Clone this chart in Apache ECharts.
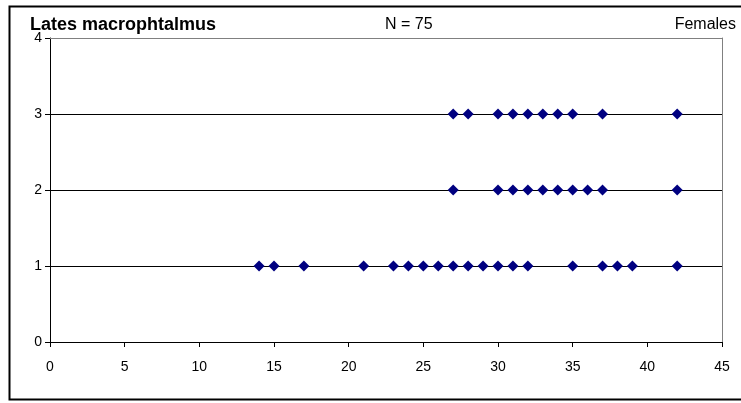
<!DOCTYPE html>
<html>
<head>
<meta charset="utf-8">
<script src="https://cdn.jsdelivr.net/npm/echarts@6/dist/echarts.min.js"></script>
<style>
  html, body { margin: 0; padding: 0; background: #fff; }
  #chart { width: 741px; height: 403px; }
</style>
</head>
<body>
<div id="chart"></div>
<script>
// lengths (x) found at each level (y)
const lengthsLevel1 = [14, 15, 17, 21, 23, 24, 25, 26, 27, 28, 29, 30, 31, 32, 35, 37, 38, 39, 42];
const lengthsLevel2 = [27, 30, 31, 32, 33, 34, 35, 36, 37, 42];
const lengthsLevel3 = [27, 28, 30, 31, 32, 33, 34, 35, 37, 42];

const xTicks = [0, 5, 10, 15, 20, 25, 30, 35, 40, 45];
const yTicks = [0, 1, 2, 3, 4];

const titleLeft = 'Lates macrophtalmus';
const titleMid = 'N = 75';
const titleRight = 'Females';

const points = [];
lengthsLevel1.forEach(v => points.push([v, 1]));
lengthsLevel2.forEach(v => points.push([v, 2]));
lengthsLevel3.forEach(v => points.push([v, 3]));

const font = 'Liberation Sans, Arial, sans-serif';

const chart = echarts.init(document.getElementById('chart'), null, { renderer: 'canvas' });

chart.setOption({
  animation: false,
  backgroundColor: '#fff',
  title: [
    { text: titleLeft, left: 25, top: 11, textStyle: { fontFamily: font, fontSize: 18, fontWeight: 'bold', color: '#000' } },
    { text: titleMid, left: 380, top: 12, textStyle: { fontFamily: font, fontSize: 16, fontWeight: 'normal', color: '#000' } },
    { text: titleRight, right: 0, top: 12, textStyle: { fontFamily: font, fontSize: 16, fontWeight: 'normal', color: '#000' } }
  ],
  graphic: [
    {
      type: 'rect',
      shape: { x: 9.5, y: 6.5, width: 740, height: 393 },
      style: { fill: null, stroke: '#000', lineWidth: 2 },
      silent: true,
      z: 100
    }
  ],
  grid: { left: 50, right: 19, top: 38, bottom: 61 },
  xAxis: [
    {
      type: 'value',
      min: xTicks[0],
      max: xTicks[xTicks.length - 1],
      interval: 5,
      axisLine: { show: true, onZero: false, lineStyle: { color: '#000', width: 1 } },
      axisTick: { show: true, inside: false, length: 5, lineStyle: { color: '#000' } },
      axisLabel: { color: '#000', fontFamily: font, fontSize: 14, margin: 18 },
      splitLine: { show: false }
    },
    {
      type: 'value',
      position: 'top',
      min: xTicks[0],
      max: xTicks[xTicks.length - 1],
      interval: 5,
      axisLine: { show: true, onZero: false, lineStyle: { color: '#808080', width: 1 } },
      axisTick: { show: false },
      axisLabel: { show: false },
      splitLine: { show: false }
    }
  ],
  yAxis: [
    {
      type: 'value',
      min: yTicks[0],
      max: yTicks[yTicks.length - 1],
      interval: 1,
      axisLine: { show: true, onZero: false, lineStyle: { color: '#000', width: 1 } },
      axisTick: { show: true, inside: false, length: 5, lineStyle: { color: '#000' } },
      axisLabel: { color: '#000', fontFamily: font, fontSize: 14, margin: 8 },
      splitLine: { show: true, lineStyle: { color: ['#000', '#000', '#000', '#000', '#808080'], width: 1 } }
    },
    {
      type: 'value',
      position: 'right',
      min: yTicks[0],
      max: yTicks[yTicks.length - 1],
      interval: 1,
      axisLine: { show: true, onZero: false, lineStyle: { color: '#808080', width: 1 } },
      axisTick: { show: false },
      axisLabel: { show: false },
      splitLine: { show: false }
    }
  ],
  series: [
    {
      type: 'scatter',
      data: points,
      symbol: 'diamond',
      symbolSize: [11, 11],
      itemStyle: { color: '#000080', opacity: 1 }
    }
  ]
});
</script>
</body>
</html>
